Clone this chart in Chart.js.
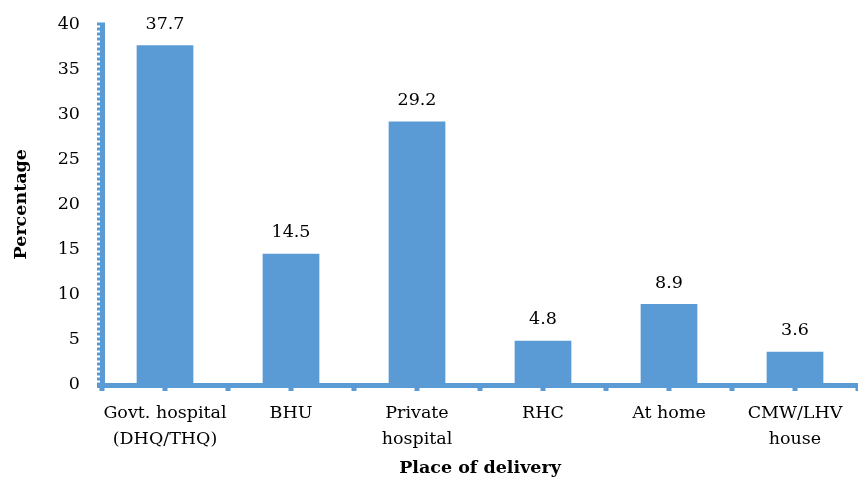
<!DOCTYPE html>
<html><head><meta charset="utf-8">
<script src="https://cdn.jsdelivr.net/npm/chart.js@4"></script>
<style>html,body{margin:0;padding:0;background:#fff}#wrap{width:858px;height:484px}</style>
</head><body><div id="wrap"><canvas id="c" width="858" height="484"></canvas></div>
<script>
const categories = [["Govt. hospital","(DHQ/THQ)"], "BHU", ["Private","hospital"], "RHC", "At home", ["CMW/LHV","house"]];
const percentages = [37.7, 14.5, 29.2, 4.8, 8.9, 3.6];
const yTicks = [0, 5, 10, 15, 20, 25, 30, 35, 40];
const FONT = "'DejaVu Serif', 'Liberation Serif', serif";
const BLUE = '#5b9bd5';

const axesPlugin = {
  id: 'axesDraw',
  afterDatasetsDraw(chart) {
    const ctx = chart.ctx;
    const xs = chart.scales.x, ys = chart.scales.y;
    const a = chart.chartArea;
    const y0 = ys.getPixelForValue(0);
    ctx.save();
    ctx.fillStyle = BLUE;
    // horizontal axis line
    ctx.fillRect(a.left - 5, y0 - 1, a.right - a.left + 5, 5);
    // tick marks every half category
    for (let i = 0; i <= percentages.length * 2; i++) {
      const x = xs.getPixelForValue(i / 2 - 0.5);
      ctx.fillRect(x - 2.5, y0 + 3, 5, 4);
    }
    // vertical axis: solid inner part + dashed outer part
    const yTop = ys.getPixelForValue(40) - 2;
    ctx.fillRect(a.left - 2, yTop, 5, y0 - yTop + 2);
    for (let y = yTop; y < y0; y += 5) {
      ctx.fillRect(a.left - 5, y, 3, 3);
    }
    // value labels
    ctx.font = "17.5px " + FONT;
    ctx.fillStyle = '#000';
    ctx.textAlign = 'center';
    ctx.textBaseline = 'middle';
    chart.getDatasetMeta(0).data.forEach((bar, i) => {
      ctx.fillText(percentages[i].toFixed(1), bar.x, bar.y - 21);
    });
    ctx.restore();
  }
};

new Chart(document.getElementById('c'), {
  type: 'bar',
  data: {
    labels: categories,
    datasets: [{
      data: percentages,
      backgroundColor: BLUE,
      barPercentage: 0.45,
      categoryPercentage: 1
    }]
  },
  options: {
    responsive: false,
    animation: false,
    layout: { padding: { top: 22, right: 0, left: 0, bottom: 0 } },
    plugins: { legend: { display: false }, tooltip: { enabled: false } },
    scales: {
      x: {
        afterFit(s) { s.height = 100; },
        grid: { display: false },
        border: { display: false },
        ticks: { color: '#000', font: { family: FONT, size: 17.5, lineHeight: 1.5 }, maxRotation: 0, autoSkip: false, padding: 8 },
        title: { display: true, text: 'Place of delivery', color: '#000', font: { family: FONT, size: 17.5, weight: 'bold' }, padding: { top: 0, bottom: 5 } }
      },
      y: {
        min: 0, max: 40,
        afterFit(s) { s.width = 102; },
        afterBuildTicks(scale) { scale.ticks = yTicks.map(v => ({ value: v })); },
        grid: { display: false },
        border: { display: false },
        ticks: { color: '#000', font: { family: FONT, size: 17.5 }, padding: 14 },
        title: { display: true, text: 'Percentage', color: '#000', font: { family: FONT, size: 17.5, weight: 'bold' }, padding: { top: 11, bottom: 0 } }
      }
    }
  },
  plugins: [axesPlugin]
});
</script></body></html>
